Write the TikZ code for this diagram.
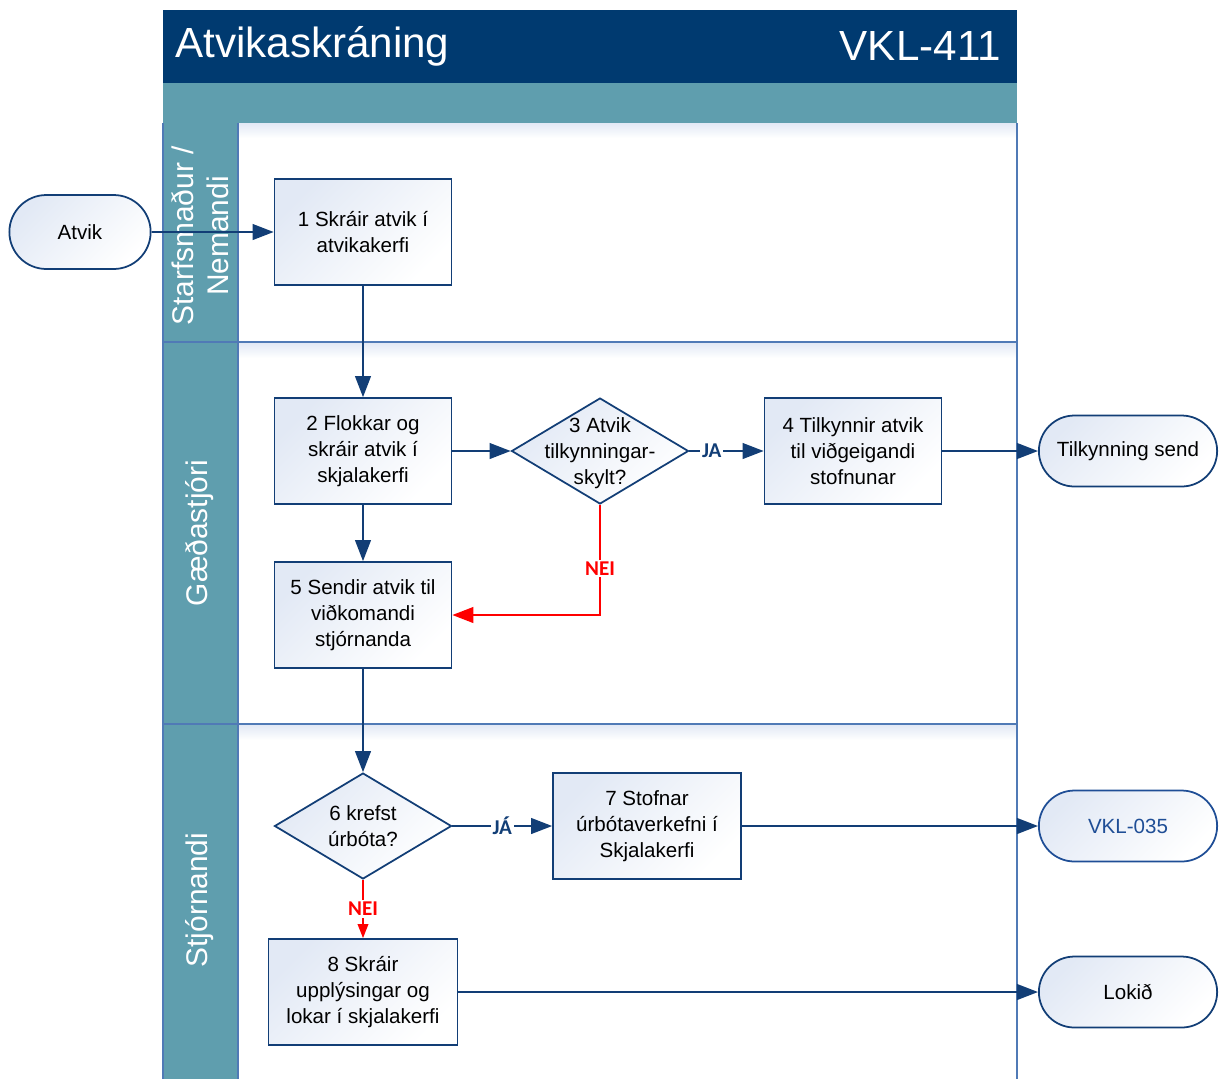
\documentclass[tikz,border=0pt]{standalone}
\usepackage{fontspec}
\setmainfont{Liberation Sans}
\newfontfamily\tagfont{Carlito}
\usetikzlibrary{arrows.meta,shapes.geometric,shapes.misc}
\definecolor{navy}{RGB}{0,58,112}
\definecolor{lanebar}{RGB}{95,158,174}
\definecolor{flowline}{RGB}{18,62,118}
\definecolor{frameline}{RGB}{80,122,182}
\definecolor{boxtint}{RGB}{226,233,245}
\definecolor{linkblue}{RGB}{31,78,150}
\begin{document}
\begin{tikzpicture}[x=0.02cm,y=-0.02cm,
    every node/.style={font=\fontsize{11.7}{14.7}\selectfont},
    task/.style={draw=flowline,line width=1pt,top color=boxtint,bottom color=white,shading angle=45,
      minimum width=3.54cm,minimum height=2.12cm,align=center,inner sep=2pt},
    decision/.style={diamond,draw=flowline,line width=1pt,top color=boxtint,bottom color=white,shading angle=45,
      minimum width=3.54cm,minimum height=2.12cm,inner sep=0pt},
    term/.style={rounded rectangle,draw=flowline,line width=1pt,top color=boxtint,bottom color=white,shading angle=45,
      minimum width=3.8cm,minimum height=1.42cm},
    lanetext/.style={rotate=90,text=white,align=center,font=\fontsize{17}{20}\selectfont},
    flow/.style={draw=flowline,line width=1pt,-{Triangle[length=12pt,width=9pt]}},
    noflow/.style={draw=red,line width=1pt,-{Triangle[length=12pt,width=9pt]}},
    yes/.style={fill=white,inner sep=1pt,text=flowline,font=\tagfont\bfseries\fontsize{12}{13}\selectfont},
    no/.style={fill=white,inner sep=1pt,text=red,font=\tagfont\bfseries\fontsize{12}{13}\selectfont}]
  \useasboundingbox (0,0) rectangle (1219,1079);
  % pool and lanes
  \fill[navy] (163,10) rectangle (1017,83);
  \fill[lanebar] (163,83) rectangle (1017,123);
  \fill[lanebar] (163,123) rectangle (238,1079);
  \shade[top color=boxtint,bottom color=white] (238,123) rectangle (1017,138);
  \shade[top color=boxtint,bottom color=white] (238,343) rectangle (1017,358);
  \shade[top color=boxtint,bottom color=white] (238,725) rectangle (1017,740);
  \begin{scope}[draw=frameline,line width=1pt]
    \draw (163,123) -- (163,1079);
    \draw (238,123) -- (238,1079);
    \draw (1017,123) -- (1017,1079);
    \draw (163,342) -- (1017,342);
    \draw (163,724) -- (1017,724);
  \end{scope}
  \node[anchor=west,text=white,font=\fontsize{24}{28}\selectfont] (title) at (169,46) {Atvikaskráning};
  \node[anchor=east,text=white,font=\fontsize{24}{28}\selectfont] (code) at (1007,46) {VKL-411};
  \node[lanetext] (lane1) at (200,236) {Starfsmaður /\\Nemandi};
  \node[lanetext] (lane2) at (200,533) {Gæðastjóri};
  \node[lanetext] (lane3) at (200,900) {Stjórnandi};
  % steps
  \node[term,minimum width=3.06cm,minimum height=1.48cm] (atvik) at (80,232) {Atvik};
  \node[task] (t1) at (363,232) {1 Skráir atvik í\\atvikakerfi};
  \node[task] (t2) at (363,451) {2 Flokkar og\\skráir atvik í\\skjalakerfi};
  \node[decision] (d3) at (600,451) {};
  \node[align=center] (d3text) at (600,453) {3 Atvik\\tilkynningar-\\skylt?};
  \node[task] (t4) at (853,451) {4 Tilkynnir atvik\\til viðgeigandi\\stofnunar};
  \node[term] (send) at (1128,451) {Tilkynning send};
  \node[task] (t5) at (363,615) {5 Sendir atvik til\\viðkomandi\\stjórnanda};
  \node[decision] (d6) at (363,826) {};
  \node[align=center] (d6text) at (d6) {6 krefst\\úrbóta?};
  \node[task,minimum width=3.76cm] (t7) at (647,826) {7 Stofnar\\úrbótaverkefni í\\Skjalakerfi};
  \node[term,draw=linkblue,text=linkblue] (vkl) at (1128,826) {VKL-035};
  \node[task,minimum width=3.78cm] (t8) at (363,992) {8 Skráir\\upplýsingar og\\lokar í skjalakerfi};
  \node[term] (done) at (1128,992) {Lokið};
  % connectors
  \draw[flow] (atvik) -- (t1);
  \draw[flow] (t1) -- (t2);
  \draw[flow] (t2) -- (d3);
  \draw[flow] (d3) -- node[yes,pos=0.3] {JA} (t4);
  \draw[flow] (t4) -- (send);
  \draw[flow] (t2) -- (t5);
  \draw[noflow] (d3.south) |- node[no,pos=0.29] {NEI} (t5.east);
  \draw[flow] (t5) -- (d6);
  \draw[flow] (d6) -- node[yes] {JÁ} (t7);
  \draw[flow] (t7) -- (vkl);
  \draw[noflow,-{Triangle[length=8pt,width=6pt]}] (d6) -- node[no] {NEI} (t8);
  \draw[flow] (t8) -- (done);
\end{tikzpicture}
\end{document}
